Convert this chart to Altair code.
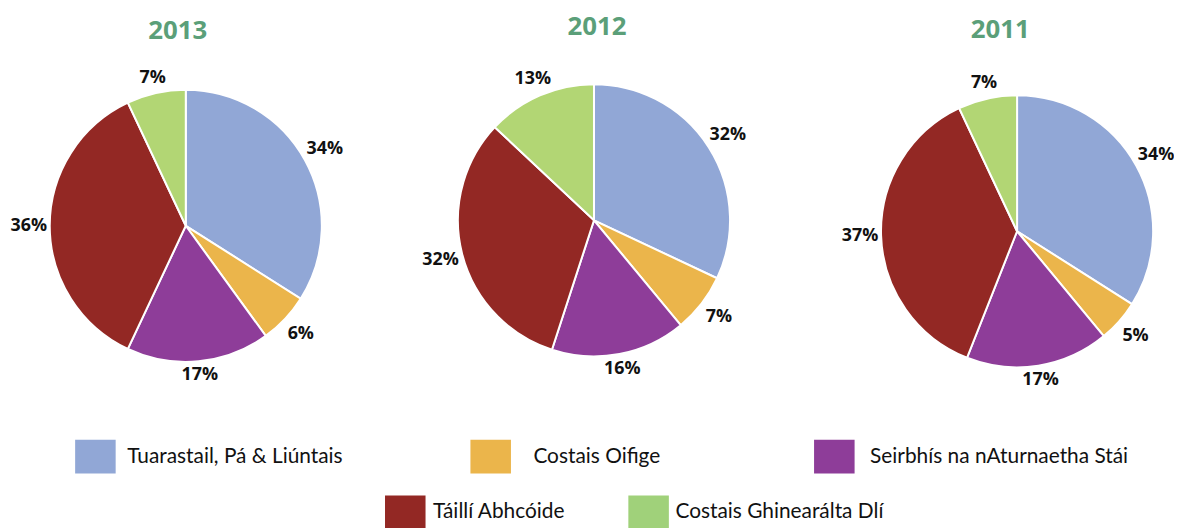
import altair as alt
import pandas as pd

# ---- data ----
CATEGORIES = [
    "Tuarastail, Pá & Liúntais",
    "Costais Oifige",
    "Seirbhís na nAturnaetha Stái",
    "Táillí Abhcóide",
    "Costais Ghinearálta Dlí",
]
YEARS = ["2013", "2012", "2011"]
SHARE_2013 = [34, 6, 17, 36, 7]
SHARE_2012 = [32, 7, 16, 32, 13]
SHARE_2011 = [34, 5, 17, 37, 7]

# ---- style / layout ----
COLORS = ["#91a7d6", "#ebb54b", "#8e3d99", "#932824", "#b2d674"]
LEGEND_COLORS = ["#91a7d6", "#ebb54b", "#8e3d99", "#932824", "#a0d17a"]
TITLE_COLOR = "#5b9f79"
PIE_CENTERS = {"2013": (179, 217.5), "2012": (590, 212), "2011": (1016, 223)}
TITLE_POS = {"2013": (171, 21), "2012": (593, 17), "2011": (999, 20)}
RADIUS = 137
LEGEND_ROW = [0, 0, 0, 1, 1]
LEGEND_SQ_X = [88, 486, 832, 400, 645]
LEGEND_TX_X = [120, 529, 868, 428, 672]
LEGEND_ROW_Y = [450, 506]

rows = []
for yr, vals in zip(YEARS, [SHARE_2013, SHARE_2012, SHARE_2011]):
    for i, (c, v) in enumerate(zip(CATEGORIES, vals)):
        rows.append(dict(year=yr, category=c, value=v, order=i))
df = pd.DataFrame(rows)

leg = pd.DataFrame({
    "category": CATEGORIES,
    "fill": LEGEND_COLORS,
    "lx": LEGEND_SQ_X,
    "tx": LEGEND_TX_X,
    "ly": [LEGEND_ROW_Y[r] for r in LEGEND_ROW],
})

color = alt.Color("category:N", scale=alt.Scale(domain=CATEGORIES, range=COLORS), legend=None)
theta_scale = alt.Scale(domain=[0, 100])

layers = []
for yr in YEARS:
    cx, cy = PIE_CENTERS[yr]
    base = alt.Chart(df).transform_filter(alt.datum.year == yr)
    arc = base.mark_arc(radius=RADIUS, stroke="white", strokeWidth=2).encode(
        theta=alt.Theta("value:Q", stack=True, scale=theta_scale),
        color=color,
        order=alt.Order("order:Q", sort="ascending"),
        x=alt.value(cx),
        y=alt.value(cy),
    )
    lab = (
        base.transform_window(cum="sum(value)", sort=[alt.SortField("order")])
        .transform_calculate(mid="datum.cum - datum.value/2")
        .transform_calculate(ang="datum.mid/100*2*PI")
        .transform_calculate(lr=f"{RADIUS + 4} + abs(sin(datum.ang))*17 + abs(cos(datum.ang))*8")
        .transform_calculate(label="datum.value + '%'")
        .mark_text(font="Open Sans", fontWeight="bold", fontSize=18, color="#111111",
                   align="center", baseline="middle")
        .encode(
            theta=alt.Theta("mid:Q", stack=False, scale=theta_scale),
            radius=alt.Radius("lr:Q", scale=None),
            text="label:N",
            x=alt.value(cx),
            y=alt.value(cy),
        )
    )
    tx, ty = TITLE_POS[yr]
    title = (
        alt.Chart(pd.DataFrame({"year": YEARS}))
        .transform_filter(alt.datum.year == yr)
        .mark_text(font="Open Sans", fontWeight="bold", fontSize=26, color=TITLE_COLOR,
                   align="center", baseline="middle")
        .encode(text="year:N", x=alt.value(tx), y=alt.value(ty))
    )
    layers += [arc, lab, title]

leg_sq = alt.Chart(leg).mark_point(
    shape="M-1.2,-1H1.2V1H-1.2Z", filled=True, size=1156, opacity=1, strokeWidth=0
).encode(
    x=alt.X("lx:Q", scale=None, axis=None),
    y=alt.Y("ly:Q", scale=None, axis=None),
    color=alt.Color("fill:N", scale=None),
)
leg_tx = alt.Chart(leg).mark_text(
    font="Lato", fontSize=21, color="#111111", align="left", baseline="middle"
).encode(
    x=alt.X("tx:Q", scale=None, axis=None),
    y=alt.Y("ly:Q", scale=None, axis=None),
    text="category:N",
)
layers += [leg_sq, leg_tx]

chart = (
    alt.layer(*layers)
    .properties(width=1174, height=520, padding=0, autosize=alt.AutoSizeParams(type="none"))
    .configure_view(stroke=None)
)

chart.save("out.html", embed_options={"renderer": "svg", "actions": False})
